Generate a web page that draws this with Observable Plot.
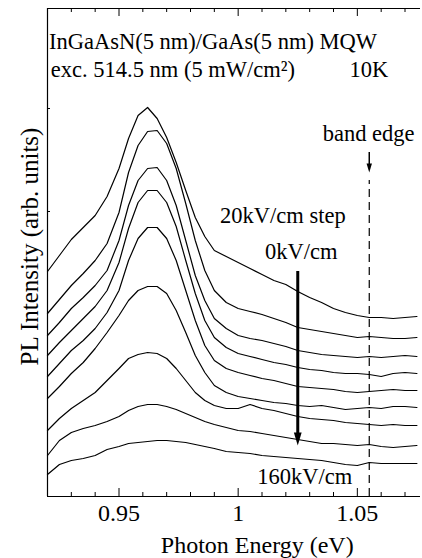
<!DOCTYPE html>
<html>
<head>
<meta charset="utf-8">
<script src="https://cdn.jsdelivr.net/npm/d3@7"></script>
<script src="https://cdn.jsdelivr.net/npm/@observablehq/plot@0.6"></script>
<style>
  html, body { margin: 0; padding: 0; background: #fff; }
</style>
</head>
<body>
<div id="chart"></div>
<script>
// Photon energy grid (eV)
const energy = [0.920,0.925,0.930,0.935,0.940,0.945,0.950,0.954,0.958,0.962,0.966,0.970,0.974,0.978,0.982,0.986,0.990,0.995,1.000,1.005,1.010,1.015,1.020,1.025,1.030,1.035,1.040,1.045,1.050,1.055,1.060,1.065,1.070,1.075];

// Electric field (kV/cm)
const fields = [0, 20, 40, 60, 80, 100, 120, 140, 160];

// PL intensity (arb. units, vertically offset traces)
const pl0   = [225,241,257,269,281,300,328,358,381,389,378,359,334,306,279,260,246,240,234,228,222,216,212,205,199,194,188,184,181,179,179,178,179,180];
const pl20  = [183,197,211,223,236,253,284,324,351,365,366,353,328,293,256,226,206,194,188,185,182,178,174,169,167,165,163,161,159,160,159,158,158,159];
const pl40  = [161,174,188,199,211,226,256,291,316,328,329,316,291,256,221,196,178,168,161,158,156,153,150,146,144,142,141,140,139,140,139,140,141,140];
const pl60  = [141,154,166,178,190,206,234,268,294,306,306,294,270,236,203,176,159,149,143,140,137,134,132,129,127,126,124,123,123,122,120,123,124,123];
const pl80  = [120,133,146,156,168,184,206,236,258,269,269,258,236,206,176,151,136,128,124,121,118,116,113,110,109,108,107,105,104,105,106,107,106,106];
const pl100 = [98,110,123,134,148,164,181,196,206,210,210,203,186,164,141,124,111,104,100,98,96,94,93,91,90,91,89,87,88,89,88,90,90,89];
const pl120 = [66,78,88,96,104,116,128,138,142,144,143,138,128,116,104,96,91,88,88,92,88,86,83,80,78,77,76,74,73,72,71,72,71,71];
const pl140 = [41,56,64,68,71,75,80,86,90,92,92,90,87,83,79,75,72,69,66,65,63,61,59,57,55,53,53,52,51,52,50,49,50,51];
const pl160 = [22,32,36,38,41,47,50,53,54,55,56,56,55,54,52,50,48,45,44,43,41,40,39,38,37,36,34,32,31,34,33,33,33,33];

const series = [pl0, pl20, pl40, pl60, pl80, pl100, pl120, pl140, pl160];

// Axes
const xDomain = [0.92, 1.0765];
const yDomain = [0, 488];
const xMajorTicks = [0.95, 1.0, 1.05];
const xTickLabels = ["0.95", "1", "1.05"];
const xMinorTicks = [0.93, 0.94, 0.96, 0.97, 0.98, 0.99, 1.01, 1.02, 1.03, 1.04, 1.06, 1.07];
const yTicks = [388, 285];

// Annotations
const bandEdge = 1.055;
const startTexts = [
  {x: 0.9206, y: 448, text: "InGaAsN(5 nm)/GaAs(5 nm) MQW"},
  {x: 0.9214, y: 420, text: "exc. 514.5 nm (5 mW/cm²)"},
  {x: 0.9924, y: 274, text: "20kV/cm step"},
  {x: 1.0113, y: 238, text: "0kV/cm"},
  {x: 1.0080, y: 13,  text: "160kV/cm"}
];
const endTexts = [
  {x: 1.0630, y: 420, text: "10K"},
  {x: 1.0740, y: 356, text: "band edge"}
];
// arrows: shaft start, head base, tip (arb. units)
const fieldArrow = [{x: 1.025, y1: 225, y2: 60, tip: 51}];
const edgeArrow = [{x: bandEdge, y1: 344, y2: 330, tip: 324}];
const edgeLine = [{x: bandEdge, y1: 0, y2: 316}];

const table = fields.flatMap((f, i) => energy.map((e, j) => ({energy: e, field: f, pl: series[i][j]})));

// narrow downward-pointing arrowhead, tip at the anchor point
const arrowHead = {
  draw(context, size) {
    const r = Math.sqrt(size / Math.PI);
    const h = 2 * r, w = 0.6 * r;
    context.moveTo(0, 0);
    context.lineTo(-w, -h);
    context.lineTo(w, -h);
    context.closePath();
  }
};

const serif = "'Liberation Serif', 'Times New Roman', Times, serif";

const chart = Plot.plot({
  width: 422,
  height: 558,
  marginLeft: 47,
  marginRight: 2,
  marginTop: 8,
  marginBottom: 62,
  style: {fontFamily: serif, background: "#fff", color: "#000"},
  x: {domain: xDomain, type: "linear"},
  y: {domain: yDomain, axis: null},
  marks: [
    Plot.ruleY([yDomain[0], yDomain[1]], {stroke: "#000", strokeWidth: 1.2}),
    Plot.ruleX([xDomain[0]], {stroke: "#000", strokeWidth: 1.2}),
    Plot.ruleX(xMajorTicks, {insetTop: 480, stroke: "#000"}),
    Plot.ruleX(xMinorTicks, {insetTop: 484, stroke: "#000"}),
    Plot.ruleX(xMajorTicks, {insetBottom: 480, stroke: "#000"}),
    Plot.ruleX(xMinorTicks, {insetBottom: 484, stroke: "#000"}),
    Plot.ruleY(yTicks, {insetRight: 370, stroke: "#000"}),
    Plot.axisX({ticks: xMajorTicks, tickSize: 0, tickPadding: 7, fontSize: 24,
      tickFormat: (d) => xTickLabels[xMajorTicks.indexOf(d)], label: null}),
    Plot.ruleX(edgeLine, {x: "x", y1: "y1", y2: "y2", stroke: "#000", strokeWidth: 1.2, strokeDasharray: "8,5"}),
    Plot.line(table, {x: "energy", y: "pl", z: "field", stroke: "#000", strokeWidth: 1.2}),
    // thick field arrow
    Plot.ruleX(fieldArrow, {x: "x", y1: "y1", y2: "y2", stroke: "#000", strokeWidth: 3}),
    Plot.dot(fieldArrow, {x: "x", y: "tip", symbol: arrowHead, r: 6.5, fill: "#000", stroke: "none"}),
    // band edge arrow
    Plot.ruleX(edgeArrow, {x: "x", y1: "y1", y2: "y2", stroke: "#000", strokeWidth: 1.5}),
    Plot.dot(edgeArrow, {x: "x", y: "tip", symbol: arrowHead, r: 4.5, fill: "#000", stroke: "none"}),
    Plot.text(startTexts, {x: "x", y: "y", text: "text", textAnchor: "start", lineAnchor: "bottom", fontSize: 22.5, fill: "#000"}),
    Plot.text(endTexts, {x: "x", y: "y", text: "text", textAnchor: "end", lineAnchor: "bottom", fontSize: 22.5, fill: "#000"}),
    Plot.text(["Photon Energy (eV)"], {x: 1.008, frameAnchor: "bottom", dy: 56, lineAnchor: "bottom", fontSize: 24, fill: "#000"}),
    Plot.text(["PL Intensity (arb. units)"], {y: 131, frameAnchor: "left", dx: -10, rotate: -90, textAnchor: "start", lineAnchor: "bottom", fontSize: 25, fill: "#000"})
  ]
});

document.getElementById("chart").appendChild(chart);
</script>
</body>
</html>
